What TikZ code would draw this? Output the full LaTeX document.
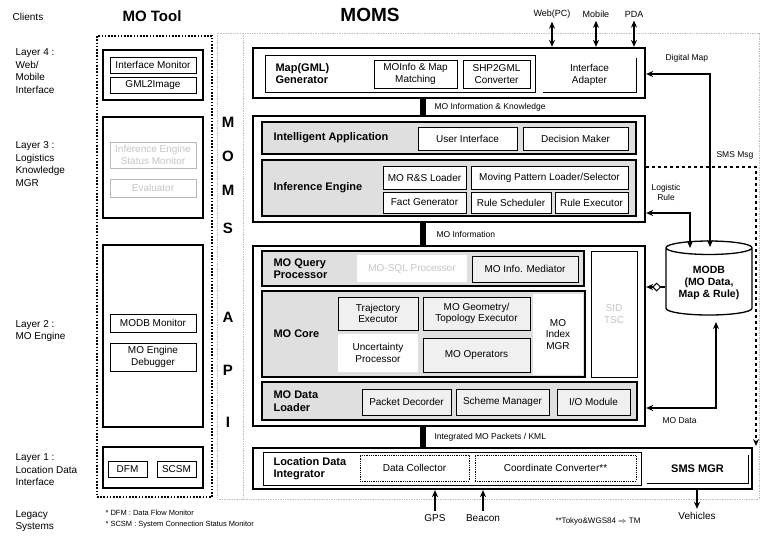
\documentclass[tikz,border=0pt]{standalone}
\usepackage{fontspec}
\setmainfont{Liberation Sans}
\usetikzlibrary{shapes.geometric,arrows.meta}

\begin{document}
\begin{tikzpicture}[x=1pt, y=-1pt,
  font=\fontsize{10}{11.5}\selectfont,
  sz/.style 2 args={minimum width=#1pt, minimum height=#2pt},
  layer/.style={draw=black, line width=2.2pt, inner sep=0pt},
  panel/.style={draw=black, line width=1.2pt, fill=gray!25, inner sep=0pt},
  unit/.style={draw=black, line width=0.8pt, fill=white, align=center, inner sep=0pt},
  gunit/.style={unit, fill=gray!12},
  blank/.style={fill=white, align=center, inner sep=0pt},
  tool/.style={draw=black, line width=1.3pt, inner sep=0pt},
  dim/.style={unit, draw=gray!55, text=gray!45},
  head/.style={anchor=west, align=left, font=\bfseries\fontsize{11}{12.5}\selectfont},
  side/.style={anchor=west, align=left, font=\fontsize{10}{12.5}\selectfont},
  small/.style={anchor=west, font=\fontsize{8.5}{10}\selectfont},
  note/.style={anchor=west, font=\fontsize{7.5}{9}\selectfont},
  letter/.style={font=\bfseries\fontsize{15}{15}\selectfont},
  bar/.style={draw, line width=6pt},
  line/.style={draw, line width=1.3pt, -{Stealth[length=7pt,width=6pt]}},
  dline/.style={line, {Stealth[length=7pt,width=6pt]}-{Stealth[length=7pt,width=6pt]}}]
\useasboundingbox[fill=white] (0,0) rectangle (761,536);

\node (clients) at (28,17) {Clients};
\node[font=\bfseries\fontsize{15}{16}\selectfont] (motool) at (152,16) {MO Tool};
\node[font=\bfseries\fontsize{19}{20}\selectfont] (moms) at (370,15) {MOMS};

\node[side] (lay4) at (12,71) {Layer 4 :\\Web/\\Mobile\\Interface};
\node[side] (lay3) at (12,164) {Layer 3 :\\Logistics\\Knowledge\\MGR};
\node[side] (lay2) at (12,331) {Layer 2 :\\MO Engine};
\node[side] (lay1) at (12,470) {Layer 1 :\\Location Data\\Interface};
\node[side] (legacy) at (12,521) {Legacy\\Systems};

\draw[gray!50, densely dotted, line width=0.7pt] (217,33) rectangle (759,499);
\draw[gray!50, densely dotted, line width=0.7pt] (243,33) -- (243,499);

\node[draw, line width=2.4pt, dash pattern=on 1.6pt off 1.6pt, sz={115}{461}, inner sep=0pt] (toolbox) at (154.5,266.5) {};
\node[tool, sz={100}{50}] (tl4) at (153,75) {};
\node[unit, sz={86}{16}] (ifmon) at (153,65) {Interface Monitor};
\node[unit, sz={86}{16}] (gml2img) at (153,85) {GML2Image};
\node[tool, sz={100}{101}] (tl3) at (153,167.5) {};
\node[dim, sz={86}{26}] (iestat) at (153,155) {Inference Engine\\Status Monitor};
\node[dim, sz={86}{18}] (evalr) at (153,188) {Evaluator};
\node[tool, sz={100}{182}] (tl2) at (153,336) {};
\node[unit, sz={86}{18}] (modbmon) at (153,323) {MODB Monitor};
\node[unit, sz={86}{28}] (debug) at (153,357) {MO Engine\\Debugger};
\node[tool, sz={100}{41}] (tl1) at (153,467.5) {};
\node[unit, sz={39}{16}] (dfm) at (127.5,469) {DFM};
\node[unit, sz={39}{16}] (scsm) at (176.5,469) {SCSM};

\foreach \ch/\yy [count=\k] in {M/122,O/156,M/190,S/228,A/317,P/370,I/422}
  \node[letter] (api\k) at (228,\yy) {\ch};

\node[layer, sz={392}{50}] (L4) at (449,73) {};
\node[unit, line width=1pt, sz={270}{37}] (mapgen) at (400,73.5) {};
\node[head] (mapgenh) at (272,73.5) {Map(GML)\\Generator};
\node[unit, sz={83}{28}] (mominfo) at (415.5,74) {MOInfo \& Map\\Matching};
\node[unit, sz={67}{28}] (shp2gml) at (496.5,74) {SHP2GML\\Converter};
\node[blank, sz={93}{34}] (ifadapt) at (589.5,75) {Interface\\Adapter};
\draw[line width=1pt] (ifadapt.south west) -- (ifadapt.south east) -- (ifadapt.north east);

\node[layer, sz={392}{106}] (L3) at (449,169) {};
\node[panel, sz={374}{32}] (intapp) at (449,138) {};
\node[head] (intapph) at (270,138) {Intelligent Application};
\node[unit, sz={99}{23}] (userif) at (467.5,138.5) {User Interface};
\node[unit, sz={105}{23}] (decision) at (575.5,138.5) {Decision Maker};
\node[panel, sz={374}{56}] (infeng) at (449,188) {};
\node[head] (infengh) at (270,188) {Inference Engine};
\node[unit, sz={83}{23}] (rsload) at (424.5,177.5) {MO R\&S Loader};
\node[unit, sz={157}{23}] (mpload) at (549.5,177.5) {Moving Pattern Loader/Selector};
\node[unit, sz={83}{21}] (factgen) at (424.5,202.5) {Fact Generator};
\node[unit, sz={80}{21}] (rulesch) at (511,202.5) {Rule Scheduler};
\node[unit, sz={73}{21}] (ruleexe) at (591.5,202.5) {Rule Executor};

\node[layer, sz={392}{180}] (L2) at (449,336) {};
\node[panel, sz={322}{35}] (query) at (423,268.5) {};
\node[head] (queryh) at (270,268.5) {MO Query\\Processor};
\node[blank, text=gray!45, sz={110}{27}] (mosql) at (412,268.5) {MO-SQL Processor};
\node[gunit, sz={106}{26}] (mediator) at (525,269) {MO Info. Mediator};
\node[unit, line width=1pt, text=gray!45, sz={46}{126}] (sidtsc) at (614,314) {SID\\TSC};
\node[panel, sz={323}{86}] (core) at (423.5,334) {};
\node[head] (coreh) at (270,334) {MO Core};
\node[gunit, sz={80}{33}] (traj) at (378,313.5) {Trajectory\\Executor};
\node[gunit, sz={107}{33}] (geom) at (476.5,313.5) {MO Geometry/\\Topology Executor};
\node[blank, sz={80}{38}] (uncert) at (378,353) {Uncertainty\\Processor};
\node[gunit, sz={107}{34}] (moops) at (476.5,355) {MO Operators};
\node[blank, sz={50}{81}] (mindex) at (558,334.5) {MO\\Index\\MGR};
\node[panel, sz={375}{38}] (loader) at (449.5,401) {};
\node[head] (loaderh) at (270,401) {MO Data\\Loader};
\node[gunit, sz={89}{26}] (packet) at (406.5,402) {Packet Decorder};
\node[gunit, sz={93}{26}] (scheme) at (502.5,402) {Scheme Manager};
\node[gunit, sz={73}{26}] (iomod) at (593.5,402) {I/O Module};

\node[layer, sz={499}{41}] (L1) at (502.5,468.5) {};
\node[unit, line width=1pt, sz={378}{33}] (ldi) at (452,468.5) {};
\node[head] (ldih) at (270,468.5) {Location Data\\Integrator};
\node[unit, densely dotted, sz={109}{26}] (collect) at (414.5,468) {Data Collector};
\node[unit, densely dotted, sz={161}{26}] (coord) at (555.5,468) {Coordinate Converter**};
\node[blank, font=\bfseries\fontsize{11}{12.5}\selectfont, sz={101}{28}] (smsmgr) at (697.5,469) {SMS MGR};
\draw[line width=1pt] (smsmgr.south west) -- (smsmgr.south east) -- (smsmgr.north east);

\node[cylinder, shape border rotate=90, aspect=0.2, draw, line width=1.3pt, fill=white, sz={86}{74}, align=center, font=\bfseries\fontsize{10.5}{12}\selectfont] (modb) at (709,283) {MODB\\(MO Data,\\Map \& Rule)};

\draw[bar] ([xshift=-26pt]L4.south) -- ([xshift=-26pt]L3.north);
\draw[bar] ([xshift=-26pt]L3.south) -- ([xshift=-26pt]L2.north);
\draw[bar] ([xshift=-26pt]L2.south) -- ([xshift=-79.5pt]L1.north);
\node[small] (lbl43) at (431,107) {MO Information \& Knowledge};
\node[small] (lbl32) at (433,234) {MO Information};
\node[small] (lbl21) at (431,437) {Integrated MO Packets / KML};

\node[font=\fontsize{9}{10}\selectfont] (web) at (552,14) {Web(PC)};
\node[font=\fontsize{9}{10}\selectfont] (mobile) at (596,14) {Mobile};
\node[font=\fontsize{9}{10}\selectfont] (pda) at (634,14) {PDA};
\node (gps) at (435,518) {GPS};
\node (beacon) at (483,518) {Beacon};
\node (veh) at (697,516) {Vehicles};
\node[small] (dmap) at (662,58) {Digital Map};
\node[small] (smsmsg) at (713,155) {SMS Msg};
\node[font=\fontsize{8.5}{10}\selectfont, align=center] (lrule) at (666,192) {Logistic\\Rule};
\node[small] (mdata) at (659,421) {MO Data};
\node[note] (fn1) at (102,513) {* DFM : Data Flow Monitor};
\node[note] (fn2) at (102,525) {* SCSM : System Connection Status Monitor};
\node[font=\fontsize{8}{9}\selectfont] (fn3) at (598,521) {**Tokyo\&WGS84 $\Rightarrow$ TM};

\coordinate (lrin) at (690,248);
\coordinate (smin) at (710,247);
\coordinate (mdin) at (716,322);
\coordinate (smsin) at (756,446);

\begin{scope}[every path/.style=dline]
\path (web) -- (web |- L4.north);
\path (mobile) -- (mobile |- L4.north);
\path (pda) -- (pda |- L4.north);
\path ([yshift=-44pt]L3.east) -| (lrin);
\path ([yshift=-1pt]L4.east) -| (smin);
\path ([yshift=-72pt]L2.east) -| (mdin);
\end{scope}
\begin{scope}[every path/.style=line]
\path (gps) -- (gps |- L1.south);
\path (beacon) -- (beacon |- L1.south);
\path (L1.south -| veh) -- (veh);
\path ([yshift=-4pt]modb.west) -- ([yshift=-4pt]modb.west -| L2.east)
  node[diamond, draw, line width=1pt, fill=white, inner sep=0pt, sz={8}{8}, pos=0.45] (link) {};
\path[dashed] ([yshift=2pt]L3.east) -| (smsin);
\end{scope}
\end{tikzpicture}
\end{document}
